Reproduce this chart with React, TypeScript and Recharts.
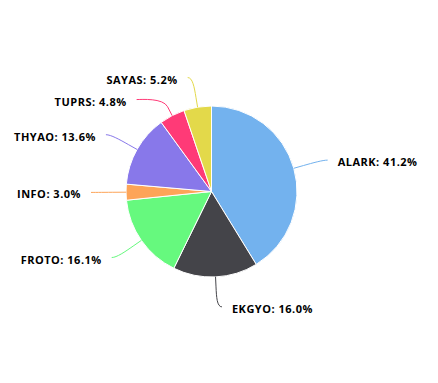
import { PieChart, Pie, Cell } from "recharts";

const names = ["ALARK", "EKGYO", "FROTO", "INFO", "THYAO", "TUPRS", "SAYAS"];
const shares = [41.2, 16.0, 16.1, 3.0, 13.6, 4.8, 5.2];
const colors = ["#73b2ee", "#444449", "#66f97e", "#fda458", "#8878ea", "#ff3a77", "#e3d94a"];

const data = names.map((name, i) => ({ name, value: shares[i] }));

const DISTANCE = 30;
const MIN_GAP = 22;

// label y positions, pushed apart like the original (top to bottom per side)
function labelLayout(cx: number, cy: number, r: number) {
  const total = shares.reduce((a, b) => a + b, 0);
  let cum = 0;
  const R = r + DISTANCE;
  const items = shares.map((v, i) => {
    const ang = 90 - (360 * (cum + v / 2)) / total;
    cum += v;
    const rad = (ang * Math.PI) / 180;
    return {
      i,
      ang,
      left: Math.cos(rad) < 0,
      y: cy - R * Math.sin(rad),
    };
  });
  for (const side of [true, false]) {
    const list = items.filter((d) => d.left === side).sort((a, b) => a.y - b.y);
    for (let k = 1; k < list.length; k++) {
      if (list[k].y - list[k - 1].y < MIN_GAP) list[k].y = list[k - 1].y + MIN_GAP;
    }
  }
  return items.map((d) => {
    const dy = Math.min(Math.abs(d.y - cy), R);
    const x = cx + (d.left ? -1 : 1) * Math.sqrt(R * R - dy * dy);
    return { ...d, x };
  });
}

const renderLabel = (props: any) => {
  const { cx, cy, outerRadius, index } = props;
  const lay = labelLayout(cx, cy, outerRadius)[index];
  const rad = (lay.ang * Math.PI) / 180;
  const cos = Math.cos(rad);
  const sin = -Math.sin(rad);
  const p4 = [cx + outerRadius * cos, cy + outerRadius * sin];
  const p2 = [cx + (outerRadius + 10) * cos, cy + (outerRadius + 10) * sin];
  const c2 = [2 * p2[0] - p4[0], 2 * p2[1] - p4[1]];
  const dir = lay.left ? -1 : 1;
  const d = `M ${lay.x + dir * 5} ${lay.y} C ${lay.x} ${lay.y} ${c2[0]} ${c2[1]} ${p2[0]} ${p2[1]} L ${p4[0]} ${p4[1]}`;
  return (
    <g>
      <path d={d} fill="none" stroke={colors[index]} strokeWidth={1} />
      <text
        x={lay.x + dir * 15}
        y={lay.y + 6}
        textAnchor={lay.left ? "end" : "start"}
        fontFamily="'Open Sans', sans-serif"
        fontWeight="bold"
        fontSize={11}
        letterSpacing={0.5}
        fill="#000"
      >
        {`${names[index]}: ${shares[index].toFixed(1)}%`}
      </text>
    </g>
  );
};

export default function App() {
  return (
    <div style={{ position: "absolute", left: 0, top: 0, width: 438, height: 383, background: "#fff" }}>
      <PieChart width={438} height={383} margin={{ top: 0, right: 0, bottom: 0, left: 0 }}>
        <Pie
          data={data}
          dataKey="value"
          nameKey="name"
          cx={211.5}
          cy={191.5}
          outerRadius={85.5}
          startAngle={90}
          endAngle={-270}
          stroke="#fff"
          strokeWidth={1}
          label={renderLabel}
          labelLine={false}
          isAnimationActive={false}
        >
          {data.map((d, i) => (
            <Cell key={d.name} fill={colors[i]} />
          ))}
        </Pie>
      </PieChart>
    </div>
  );
}
